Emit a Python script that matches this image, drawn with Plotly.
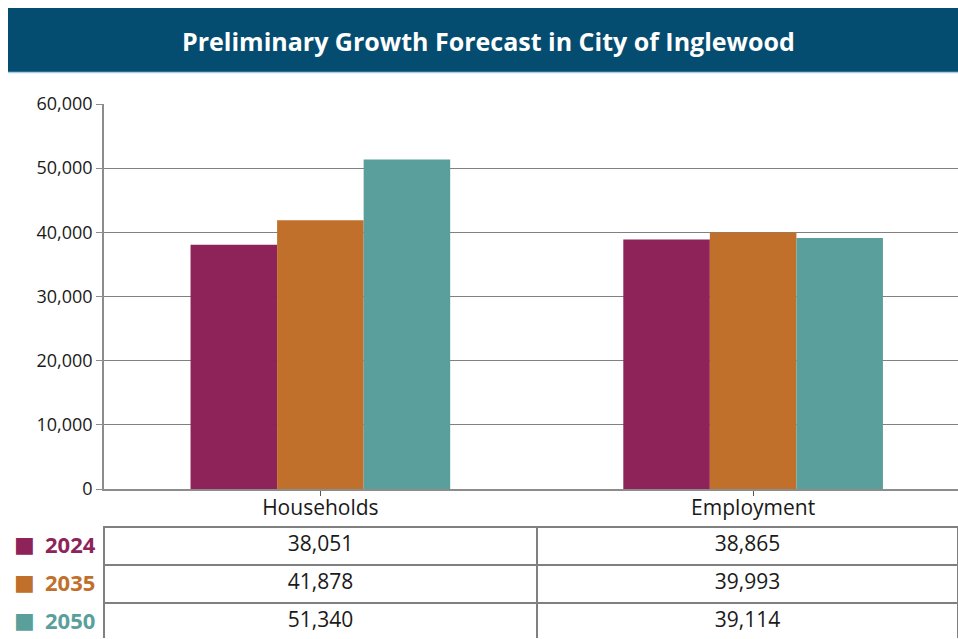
import plotly.graph_objects as go

categories = ["Households", "Employment"]
years = ["2024", "2035", "2050"]
values_2024 = [38051, 38865]
values_2035 = [41878, 39993]
values_2050 = [51340, 39114]
series = [values_2024, values_2035, values_2050]
colors = ["#8e2359", "#c0702b", "#5a9f9c"]
y_ticks = [0, 10000, 20000, 30000, 40000, 50000, 60000]
title_text = "Preliminary Growth Forecast in City of Inglewood"

W, H = 958, 639
FONT = "Open Sans"

def px_x(x):
    return x / W

def px_y(y):
    return 1 - y / H

fig = go.Figure()
for name, vals, col in zip(years, series, colors):
    fig.add_trace(go.Bar(x=categories, y=vals, name=name, marker=dict(color=col, line=dict(width=0)),
                         showlegend=False, hoverinfo="skip"))

# table: first row in header, remaining rows in cells
col_house = [series[i][0] for i in range(len(years))]
col_emp = [series[i][1] for i in range(len(years))]
fig.add_trace(go.Table(
    domain=dict(x=[px_x(104), 1.0], y=[0, px_y(527)]),
    columnwidth=[433, 421],
    header=dict(values=[col_house[0], col_emp[0]], format=[",d", ",d"], height=38,
                fill=dict(color="white"), line=dict(color="#808080", width=1.5),
                font=dict(family=FONT, size=21, color="#1a1a1a"), align="center"),
    cells=dict(values=[col_house[1:], col_emp[1:]], format=[",d", ",d"], height=38,
               fill=dict(color="white"), line=dict(color="#808080", width=1.5),
               font=dict(family=FONT, size=21, color="#1a1a1a"), align="center"),
))

annotations = []
for i, (name, col) in enumerate(zip(years, colors)):
    yc = 527 + 38 * i + 17
    annotations.append(dict(
        x=px_x(12), y=px_y(yc), xref="paper", yref="paper", xanchor="left", yanchor="middle",
        text="■", showarrow=False,
        font=dict(family="DejaVu Sans", size=22, color=col)))
    annotations.append(dict(
        x=px_x(43), y=px_y(yc), xref="paper", yref="paper", xanchor="left", yanchor="middle",
        text=f"<b>{name}</b>", showarrow=False,
        font=dict(family=FONT, size=22, color=col)))
annotations.append(dict(
    x=px_x(488), y=px_y(41), xref="paper", yref="paper", xanchor="center", yanchor="middle",
    text=f"<b>{title_text}</b>", showarrow=False,
    font=dict(family=FONT, size=25, color="white")))

shapes = [
    dict(type="rect", xref="paper", yref="paper", x0=px_x(8), x1=1.0, y0=px_y(72), y1=px_y(8),
         fillcolor="#054d70", line=dict(width=0), layer="below"),
    dict(type="line", xref="paper", yref="paper", x0=px_x(8), x1=1.0, y0=px_y(72.5), y1=px_y(72.5),
         line=dict(color="#a8cfe4", width=1.5)),
]

fig.update_layout(
    width=W, height=H, autosize=False,
    margin=dict(l=0, r=0, t=0, b=0, pad=0),
    paper_bgcolor="white", plot_bgcolor="white",
    barmode="group", bargap=0.4, bargroupgap=0,
    font=dict(family=FONT, size=16, color="#1a1a1a"),
    xaxis=dict(domain=[px_x(104), 1.0], range=[-0.5, 1.5 - 11.5 / 433], showgrid=False,
               automargin=False,
               showline=True, linecolor="#8c8c8c", linewidth=1.5,
               ticks="outside", ticklen=5, tickcolor="#555555", ticklabelstandoff=-6,
               tickfont=dict(family=FONT, size=21, color="#1a1a1a"), fixedrange=True),
    yaxis=dict(domain=[px_y(489), px_y(104)], range=[0, 60000], tickvals=y_ticks,
               automargin=False,
               tickformat=",d", showgrid=True, gridcolor="#808080", gridwidth=1.2,
               showline=True, linecolor="#8c8c8c", linewidth=1.5,
               ticks="outside", ticklen=6, tickcolor="#8c8c8c", zeroline=False,
               tickfont=dict(family=FONT, size=18, color="#1a1a1a"), fixedrange=True),
    annotations=annotations,
    shapes=shapes,
)

post = ("document.documentElement.style.margin='0';document.body.style.margin='0';"
        "document.body.style.overflow='hidden';"
        "var d=document.getElementById('{plot_id}');d.style.position='fixed';"
        "d.style.top='0px';d.style.left='0px';")
fig.write_html("out.html", post_script=post, config={"displayModeBar": False})
